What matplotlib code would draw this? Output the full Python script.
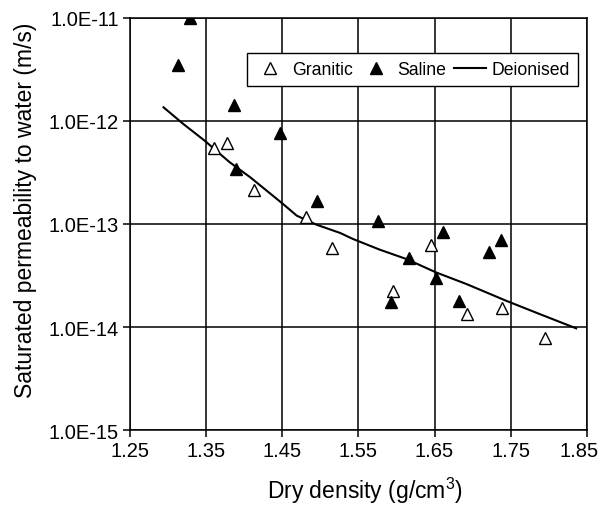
import math
import matplotlib
matplotlib.use("Agg")
import matplotlib.pyplot as plt
from matplotlib.ticker import FixedLocator, NullLocator, FuncFormatter
from matplotlib.transforms import ScaledTranslation

plt.rcParams['font.family'] = ['Liberation Sans', 'DejaVu Sans']
plt.rcParams['mathtext.fontset'] = 'custom'
plt.rcParams['mathtext.rm'] = 'Liberation Sans'

granitic_x = [1.360, 1.378, 1.413, 1.481, 1.515, 1.595, 1.645, 1.693, 1.739, 1.795]
granitic_y = [5.5e-13, 6.1e-13, 2.14e-13, 1.16e-13, 5.85e-14, 2.25e-14, 6.3e-14, 1.34e-14, 1.53e-14, 7.9e-15]

saline_x = [1.313, 1.329, 1.386, 1.389, 1.447, 1.495, 1.576, 1.593, 1.617, 1.652, 1.661, 1.682, 1.722, 1.737]
saline_y = [3.5e-12, 1.0e-11, 1.44e-12, 3.4e-13, 7.6e-13, 1.69e-13, 1.08e-13, 1.76e-14, 4.7e-14, 3.0e-14, 8.4e-14, 1.77e-14, 5.3e-14, 7.0e-14]

deion_x = [1.294, 1.320, 1.348, 1.381, 1.408, 1.451, 1.469, 1.495, 1.526, 1.543, 1.578, 1.613, 1.652, 1.692, 1.744, 1.788, 1.836]
deion_logy = [-11.867, -12.029, -12.191, -12.401, -12.547, -12.806, -12.919, -13.007, -13.087, -13.146, -13.249, -13.34, -13.47, -13.583, -13.745, -13.874, -14.013]
deion_y = [10 ** v for v in deion_logy]

xticks = [1.25, 1.35, 1.45, 1.55, 1.65, 1.75, 1.85]
yticks = [1e-15, 1e-14, 1e-13, 1e-12, 1e-11]

fig = plt.figure(figsize=(6.0, 5.06), dpi=100)
ax = fig.add_axes([0.2167, 0.1482, 0.7613, 0.8143])

ax.set_yscale('log')
ax.set_xlim(1.25, 1.85)
ax.set_ylim(1e-15, 1e-11)

ax.xaxis.set_major_locator(FixedLocator(xticks))
ax.yaxis.set_major_locator(FixedLocator(yticks))
ax.yaxis.set_minor_locator(NullLocator())
ax.xaxis.set_minor_locator(NullLocator())
ax.xaxis.set_major_formatter(FuncFormatter(lambda v, p: f"{v:.2f}"))


def sci(v, p):
    e = int(round(math.log10(v)))
    return f"1.0E{e:+03d}".replace("+", "")


ax.yaxis.set_major_formatter(FuncFormatter(sci))

ax.grid(True, color='black', linewidth=1.1)
ax.set_axisbelow(True)
for s in ax.spines.values():
    s.set_color('black')
    s.set_linewidth(1.1)
ax.tick_params(axis='both', direction='out', length=5, width=1.1, color='black',
               labelsize=14.5, labelcolor='black', pad=3)

ax.plot(deion_x, deion_y, color='black', linewidth=1.5, label='Deionised', zorder=3)
ax.plot(granitic_x, granitic_y, linestyle='none', marker='^', markersize=9,
        markerfacecolor='white', markeredgecolor='black', markeredgewidth=1.0,
        label='Granitic', zorder=4)
ax.plot(saline_x, saline_y, linestyle='none', marker='^', markersize=8,
        markerfacecolor='black', markeredgecolor='black', label='Saline', zorder=4)

handles, labels = ax.get_legend_handles_labels()
order = [1, 2, 0]
leg = ax.legend([handles[i] for i in order], [labels[i] for i in order],
                ncol=3, loc='upper right', bbox_to_anchor=(0.980, 0.915),
                frameon=True, fancybox=False, edgecolor='black', framealpha=1,
                fontsize=12.7, handlelength=1.8, handletextpad=0.3, columnspacing=0.45,
                borderpad=0.45, borderaxespad=0.0)
leg.get_frame().set_linewidth(1.0)

ax.set_xlabel('Dry density (g/cm$^3$)', fontsize=16.5)
ax.set_ylabel('Saturated permeability to water (m/s)', fontsize=16.5)
ax.xaxis.set_label_coords(0.514, -0.108)
ax.yaxis.set_label_coords(-0.203, 0.536)

fig.canvas.draw()
last = ax.get_xticklabels()[-1]
last.set_transform(last.get_transform() + ScaledTranslation(-0.08, 0, fig.dpi_scale_trans))

fig.savefig('out.png', dpi=100)
